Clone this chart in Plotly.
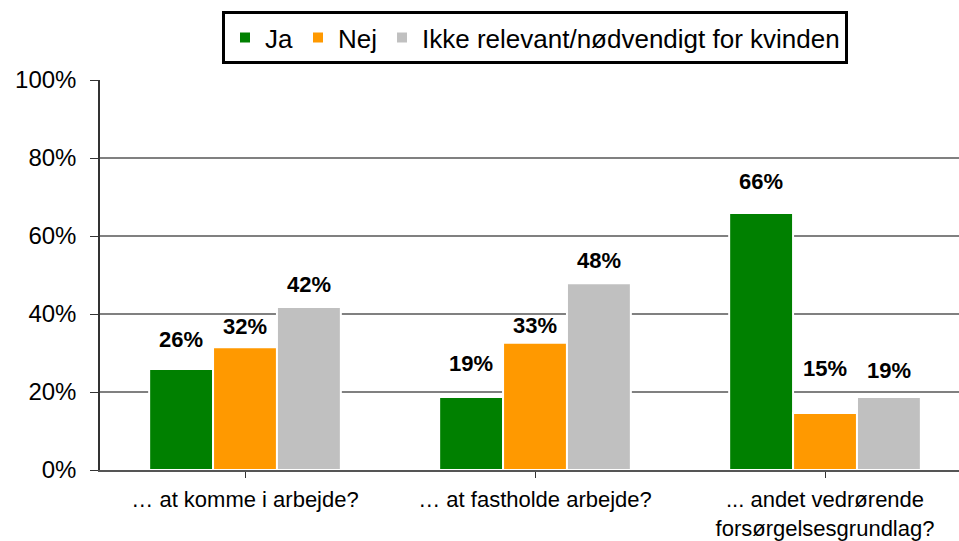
import plotly.graph_objects as go

categories = ["… at komme i arbejde?", "… at fastholde arbejde?",
              "... andet vedrørende<br>forsørgelsesgrundlag?"]
series_names = ["Ja", "Nej", "Ikke relevant/nødvendigt for kvinden"]
ja = [25.9, 18.7, 65.9]
nej = [31.5, 32.6, 14.6]
ikke = [41.8, 47.9, 18.7]
ja_labels = ["26%", "19%", "66%"]
nej_labels = ["32%", "33%", "15%"]
ikke_labels = ["42%", "48%", "19%"]
y_ticks = [0, 20, 40, 60, 80, 100]
y_tick_labels = ["0%", "20%", "40%", "60%", "80%", "100%"]

colors = ["#008000", "#FF9900", "#C0C0C0"]
label_gap = [[29, 21, 22], [34, 17, 23], [31, 45, 27]]  # px above bar top (style)
bargap = 0.339

values = [ja, nej, ikke]
labels = [ja_labels, nej_labels, ikke_labels]
xs = list(range(len(categories)))

fig = go.Figure()
for j, (name, vals, col) in enumerate(zip(series_names, values, colors)):
    fig.add_trace(go.Bar(
        x=xs, y=vals, name=name,
        marker=dict(color=col, line=dict(color="white", width=2)),
        hoverinfo="skip",
    ))

bw = (1 - bargap) / 3
ann = []
for j in range(3):
    for i in xs:
        ann.append(dict(
            x=i + (j - 1) * bw, y=values[j][i], xref="x", yref="y",
            text=labels[j][i], showarrow=False,
            yanchor="middle", yshift=label_gap[i][j],
            font=dict(family="Liberation Sans, Arial", size=22, color="black", weight="bold"),
        ))

fig.update_layout(
    width=959, height=541,
    margin=dict(l=100, r=0, t=80, b=71),
    paper_bgcolor="white", plot_bgcolor="white",
    barmode="group", bargap=bargap, bargroupgap=0,
    font=dict(family="Liberation Sans, Arial", color="black"),
    annotations=ann,
    showlegend=True,
    legend=dict(
        orientation="h", xref="container", yref="container",
        x=222 / 959, xanchor="left", y=1 - 11 / 541, yanchor="top",
        bordercolor="black", borderwidth=3,
        font=dict(size=26, color="black"),
        itemclick=False, itemdoubleclick=False,
        tracegroupgap=0,
    ),
    xaxis=dict(
        tickmode="array", tickvals=xs, ticktext=categories,
        range=[-0.5, 2.462], tickson="boundaries",
        ticks="outside", ticklen=6, tickcolor="#333333", tickwidth=1,
        showline=True, linecolor="#555555", linewidth=2,
        showgrid=False, zeroline=False, ticklabelstandoff=3,
        tickfont=dict(size=22, color="black"),
    ),
    yaxis=dict(
        range=[0, 100], tickmode="array", tickvals=y_ticks, ticktext=y_tick_labels,
        ticks="outside", ticklen=8, tickcolor="#333333",
        showline=True, linecolor="#333333", linewidth=1.5,
        showgrid=True, gridcolor="#808080", gridwidth=1.5,
        zeroline=False, ticklabelstandoff=9,
        tickfont=dict(size=24, color="black"),
    ),
)

fig.write_html("out.html", config={"displayModeBar": False},
               post_script="document.body.style.margin='0';")
